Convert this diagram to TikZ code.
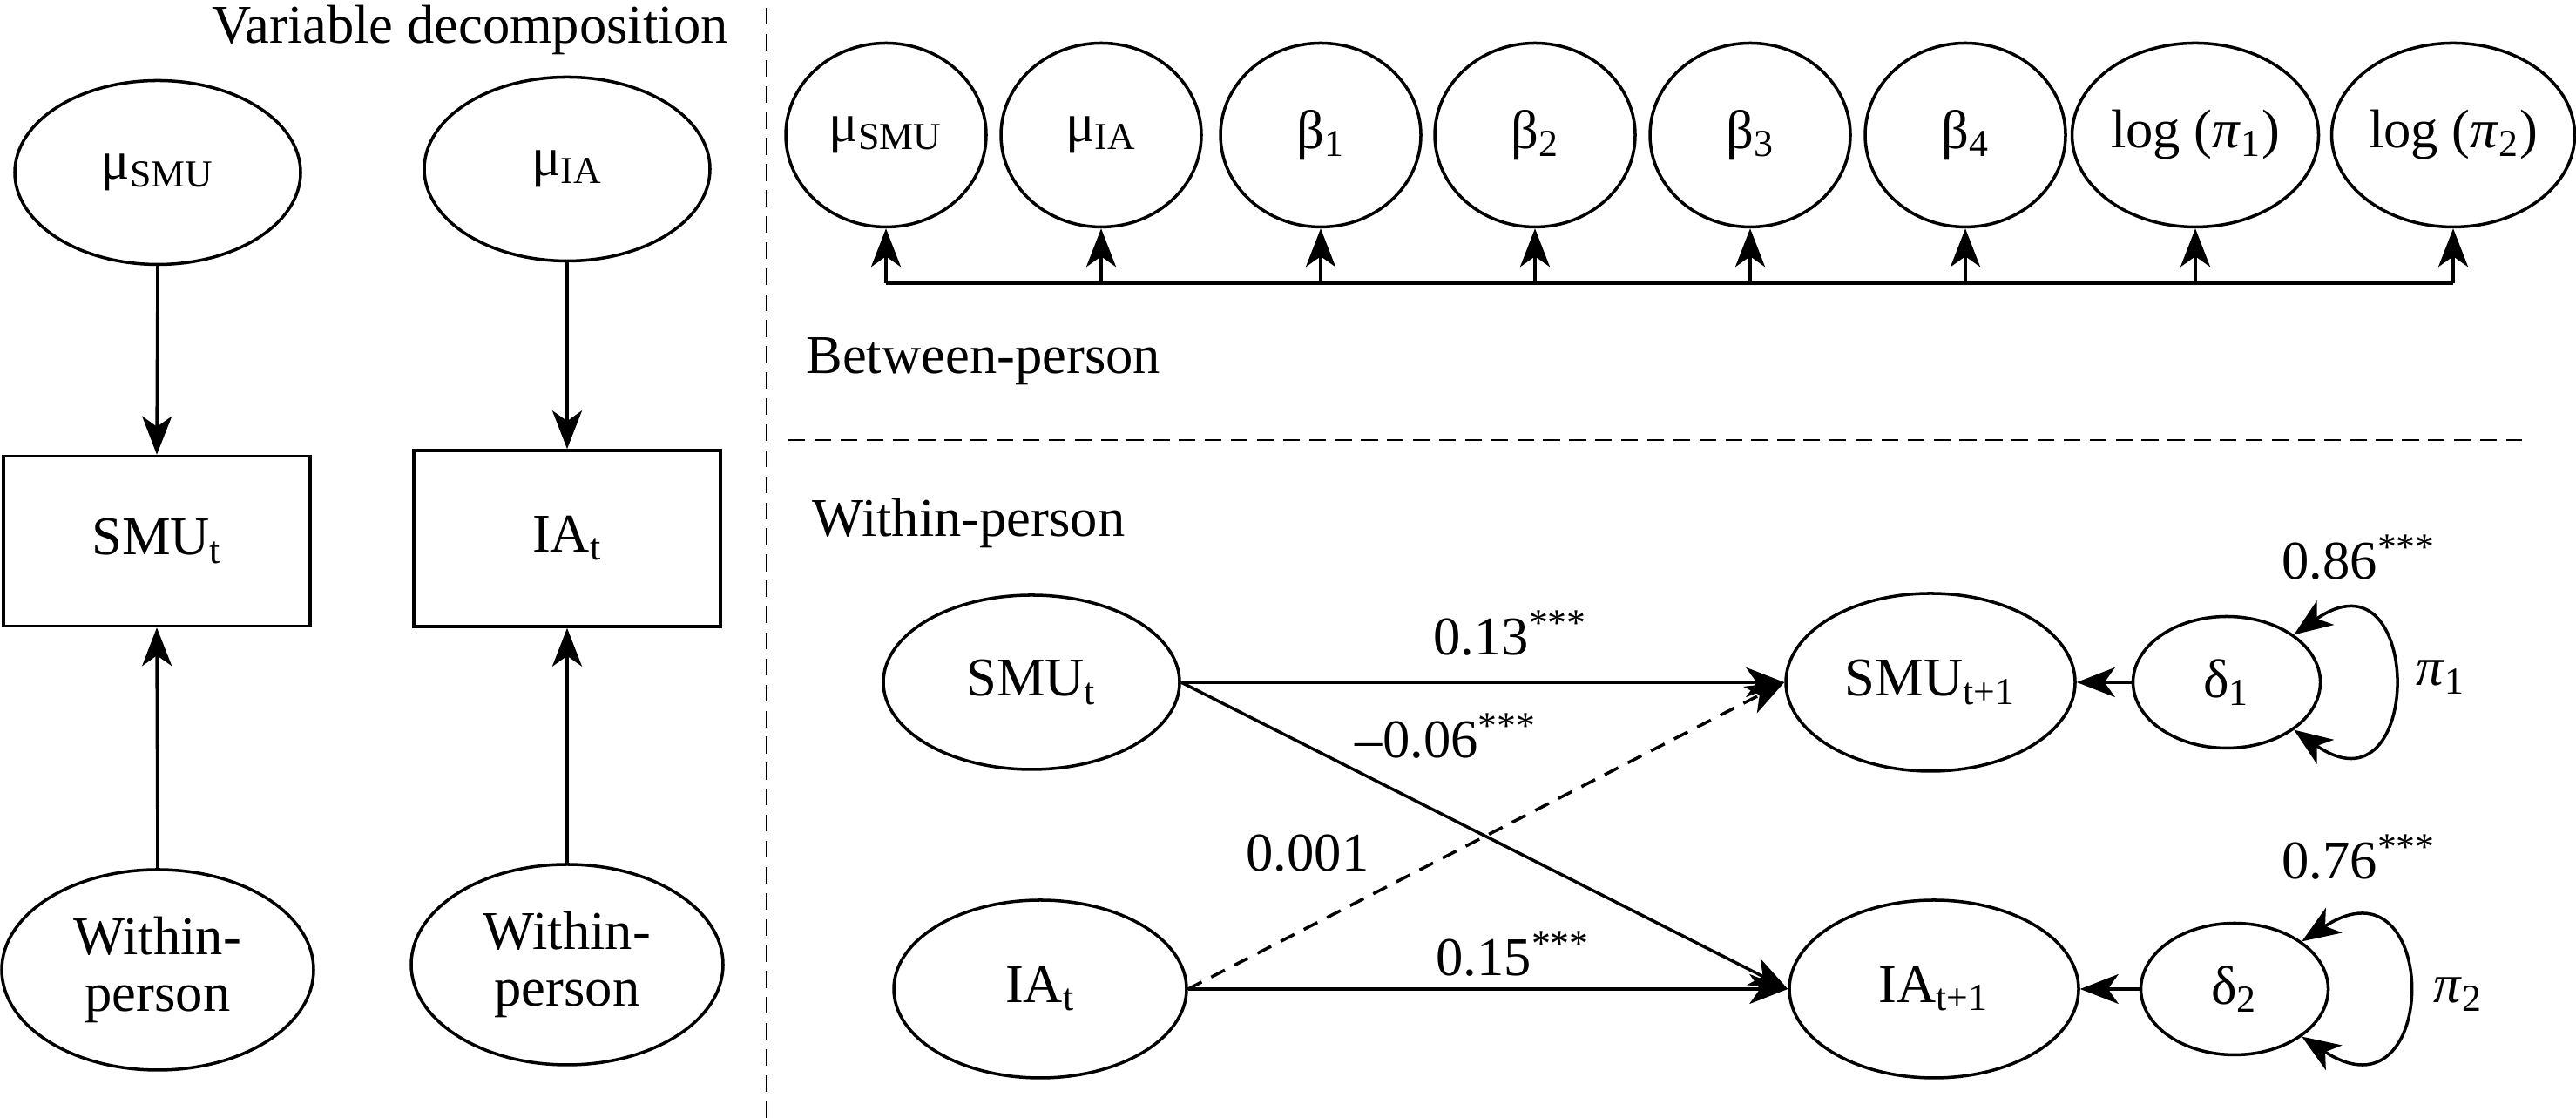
\documentclass[tikz,border=0pt]{standalone}
\usepackage{fontspec}
\setmainfont{Liberation Serif}
\usetikzlibrary{positioning,shapes.geometric,arrows.meta}

\newcommand{\figFont}{\fontsize{17.8pt}{18.5pt}\selectfont}
\newcommand{\subTxt}[1]{\textsubscript{#1}}
\newcommand{\sigStars}{\textsuperscript{***}}

\tikzset{
	latent/.style={ellipse, draw, inner sep=0pt},
	manifest/.style={rectangle, draw, inner sep=0pt, minimum width=3.52cm},
	parbox/.style={latent, minimum width=2.30cm, minimum height=2.11cm},
	sectionline/.style={line width=0.8pt, dash pattern=on 5.5pt off 3pt},
	>={Stealth[length=4.4mm,width=3.4mm,inset=1.2mm]}
}

\begin{document}
\begin{tikzpicture}[line width=1pt, font=\figFont]
		\useasboundingbox (0,0) rectangle (29.57,12.83);
		
		\draw[sectionline] (8.80,0) -- (8.80,12.83);		% vertical border
		\draw[sectionline] (9.05,7.78) -- (28.95,7.78);	% between / within border
		
		% variable decomposition
		\node[anchor=base east] (titleDecomp) at (8.49,12.33) {Variable decomposition};
		\node[latent, minimum width=3.28cm, minimum height=2.11cm] (muSMU) at (1.81,10.85) {μ\subTxt{SMU}};
		\node[latent, minimum width=3.28cm, minimum height=2.11cm] (muIA) at (6.51,10.89) {μ\subTxt{IA}};
		\node[manifest, minimum height=1.95cm] (boxSMU) at (1.80,6.62) {SMU\subTxt{t}};
		\node[manifest, minimum height=2.02cm] (boxIA) at (6.51,6.65) {IA\subTxt{t}};
		\node[latent, minimum width=3.58cm, minimum height=2.30cm, align=center] (wpSMU) at (1.81,1.70) {Within-\\person};
		\node[latent, minimum width=3.58cm, minimum height=2.30cm, align=center] (wpIA) at (6.51,1.76) {Within-\\person};
		
		\draw[->] (muSMU.south) -- (boxSMU.north);
		\draw[->] (muIA.south) -- (boxIA.north);
		\draw[->] (wpSMU.north) -- (boxSMU.south);
		\draw[->] (wpIA.north) -- (boxIA.south);
		
		% between-person
		\node[parbox] (bMuSMU) at (10.17,11.28) {μ\subTxt{SMU}};
		\node[parbox] (bMuIA) at (12.64,11.28) {μ\subTxt{IA}};
		\node[parbox] (bBetaA) at (15.16,11.28) {β\subTxt{1}};
		\node[parbox] (bBetaB) at (17.62,11.28) {β\subTxt{2}};
		\node[parbox] (bBetaC) at (20.09,11.28) {β\subTxt{3}};
		\node[parbox] (bBetaD) at (22.56,11.28) {β\subTxt{4}};
		\node[parbox, minimum width=2.83cm] (bLogPiA) at (25.20,11.28) {log (\textit{π}\subTxt{1})};
		\node[parbox, minimum width=2.79cm] (bLogPiB) at (28.16,11.28) {log (\textit{π}\subTxt{2})};
		
		\coordinate (busLeft) at (10.17,9.58);
		\coordinate (busRight) at (28.16,9.58);
		\draw (busLeft) -- (busRight);
		\foreach \parName in {bMuSMU,bMuIA,bBetaA,bBetaB,bBetaC,bBetaD,bLogPiA,bLogPiB}
			\draw[->] (\parName.south |- busLeft) -- (\parName.south);
		
		\node[anchor=base west] (titleBetween) at (9.12,8.54) {Between-person};
		
		% within-person
		\node[anchor=base west] (titleWithin) at (9.19,6.67) {Within-person};
		\node[latent, minimum width=3.40cm, minimum height=2.00cm] (smuT) at (11.84,5.00) {SMU\subTxt{t}};
		\node[latent, minimum width=3.36cm, minimum height=2.04cm] (iaT) at (11.94,1.48) {IA\subTxt{t}};
		\node[latent, minimum width=3.32cm, minimum height=2.04cm] (smuNext) at (22.16,5.00) {SMU\subTxt{t+1}};
		\node[latent, minimum width=3.32cm, minimum height=2.04cm] (iaNext) at (22.20,1.48) {IA\subTxt{t+1}};
		\node[latent, minimum width=2.15cm, minimum height=1.51cm] (deltaOne) at (25.56,5.00) {δ\subTxt{1}};
		\node[latent, minimum width=2.15cm, minimum height=1.51cm] (deltaTwo) at (25.65,1.48) {δ\subTxt{2}};
		
		\draw[->] (smuT.east) -- (smuNext.west);
		\draw[->] (iaT.east) -- (iaNext.west);
		\draw[->] (smuT.east) -- (iaNext.west);
		\draw[->, dash pattern=on 5pt off 3.5pt] (iaT.east) -- (smuNext.west);
		\draw[->] (deltaOne) -- (smuNext);
		\draw[->] (deltaTwo) -- (iaNext);
		\draw[<->] (deltaOne.north east) .. controls +(1.5,1.05) and +(1.5,-1.05) .. (deltaOne.south east);
		\draw[<->] (deltaTwo.north east) .. controls +(1.6,1.05) and +(1.6,-1.05) .. (deltaTwo.south east);
		
		% coefficients
		\node[anchor=base] (coefSMU) at (17.34,5.31) {0.13\sigStars};
		\node[anchor=base] (coefCross) at (16.60,4.13) {–0.06\sigStars};
		\node[anchor=base] (coefDashed) at (15.01,2.83) {0.001};
		\node[anchor=base] (coefIA) at (17.37,1.63) {0.15\sigStars};
		\node[anchor=base] (coefArA) at (27.08,6.18) {0.86\sigStars};
		\node[anchor=base] (labPiA) at (28.02,4.96) {\textit{π}\subTxt{1}};
		\node[anchor=base] (coefArB) at (27.08,2.74) {0.76\sigStars};
		\node[anchor=base] (labPiB) at (28.22,1.32) {\textit{π}\subTxt{2}};
\end{tikzpicture}
\end{document}
